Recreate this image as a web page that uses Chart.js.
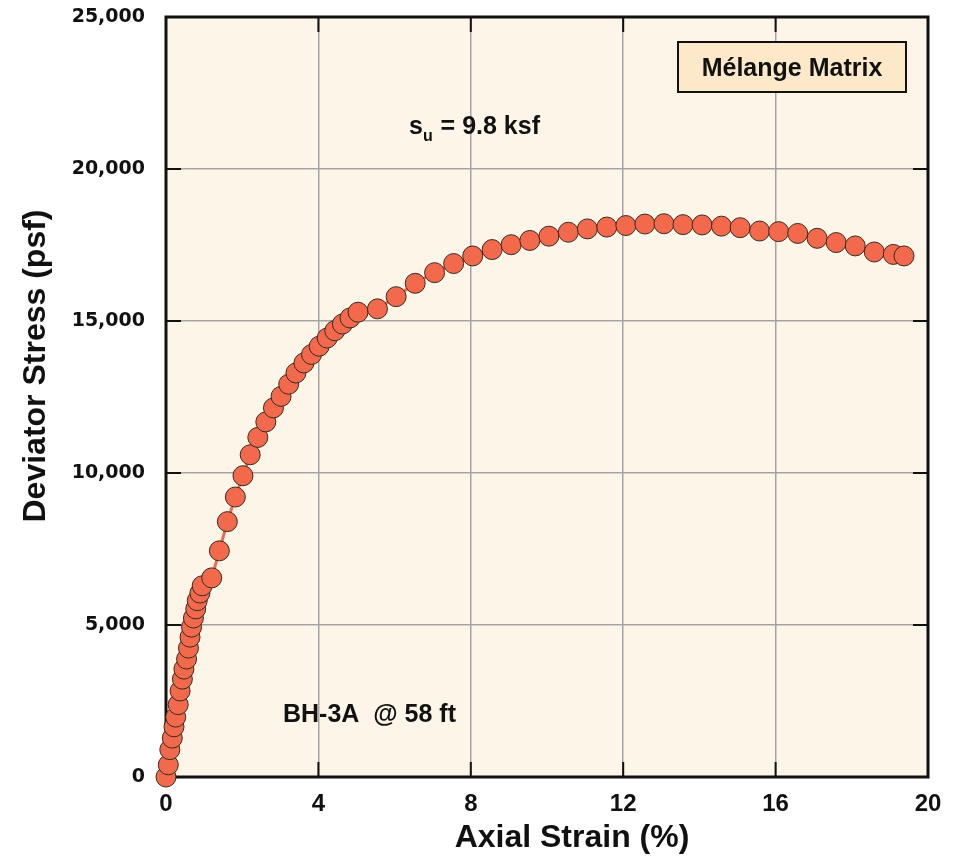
<!DOCTYPE html>
<html>
<head>
<meta charset="utf-8">
<title>Deviator Stress vs Axial Strain</title>
<script src="https://cdn.jsdelivr.net/npm/chart.js@4.4.1/dist/chart.umd.min.js"></script>
<style>
  html, body { margin: 0; padding: 0; background: #fff; }
  #wrap { width: 965px; height: 863px; }
</style>
</head>
<body>
<div id="wrap"><canvas id="chart" width="965" height="863"></canvas></div>
<script>
// values
const strain = [
  0, 0.06, 0.10, 0.165, 0.21, 0.255, 0.32, 0.37, 0.43, 0.47,
  0.54, 0.59, 0.63, 0.67, 0.72, 0.78, 0.82, 0.89, 0.95, 1.20,
  1.40, 1.61, 1.82, 2.02, 2.21, 2.41, 2.62, 2.82, 3.02, 3.22,
  3.41, 3.62, 3.82, 4.02, 4.23, 4.43, 4.63, 4.83, 5.04, 5.55,
  6.04, 6.54, 7.05, 7.55, 8.05, 8.56, 9.06, 9.55, 10.05, 10.56,
  11.06, 11.57, 12.07, 12.57, 13.07, 13.57, 14.07, 14.58, 15.07, 15.58,
  16.08, 16.58, 17.09, 17.59, 18.09, 18.59, 19.09, 19.37
];
const stress = [
  0, 400, 900, 1280, 1650, 1970, 2380, 2830, 3220, 3550,
  3880, 4240, 4600, 4930, 5230, 5530, 5800, 6050, 6290, 6550,
  7440, 8400, 9210, 9910, 10600, 11170, 11680, 12140, 12520, 12920,
  13290, 13620, 13900, 14170, 14440, 14680, 14900, 15100, 15290, 15400,
  15800, 16240, 16590, 16890, 17140, 17350, 17510, 17650, 17790, 17920,
  18030, 18090, 18140, 18190, 18200, 18170, 18160, 18120, 18070, 17960,
  17940, 17880, 17720, 17580, 17470, 17270, 17190, 17140
];
const xTicks = [0, 4, 8, 12, 16, 20];
const yTicks = [0, 5000, 10000, 15000, 20000, 25000];
const xTitle = "Axial Strain (%)";
const yTitle = "Deviator Stress (psf)";
const boxLabel = "Mélange Matrix";
const suLabel = ["s", "u", " = 9.8 ksf"];
const sampleLabel = "BH-3A  @ 58 ft";

const points = strain.map((x, i) => ({ x: x, y: stress[i] }));

const frame = {
  id: "frame",
  beforeDraw(chart) {
    const { ctx, chartArea: a } = chart;
    ctx.save();
    ctx.fillStyle = "#fcf5e8";
    ctx.fillRect(a.left, a.top, a.right - a.left, a.bottom - a.top);
    ctx.restore();
  },
  beforeDatasetsDraw(chart) {
    const { ctx, chartArea: a, scales } = chart;
    ctx.save();
    ctx.strokeStyle = "#111";
    // inward tick marks on all four sides
    ctx.lineWidth = 2;
    const tl = 15;
    xTicks.forEach((v) => {
      const px = scales.x.getPixelForValue(v);
      ctx.beginPath();
      ctx.moveTo(px, a.bottom); ctx.lineTo(px, a.bottom - tl);
      ctx.moveTo(px, a.top); ctx.lineTo(px, a.top + tl);
      ctx.stroke();
    });
    yTicks.forEach((v) => {
      const py = scales.y.getPixelForValue(v);
      ctx.beginPath();
      ctx.moveTo(a.left, py); ctx.lineTo(a.left + tl, py);
      ctx.moveTo(a.right, py); ctx.lineTo(a.right - tl, py);
      ctx.stroke();
    });
    ctx.lineWidth = 3;
    ctx.strokeRect(a.left, a.top, a.right - a.left, a.bottom - a.top);

    // annotations
    ctx.fillStyle = "#111";
    ctx.font = "bold 25px 'Liberation Sans', Arial, sans-serif";
    ctx.textBaseline = "alphabetic";
    ctx.textAlign = "left";
    ctx.fillText(sampleLabel, 283, 722);

    let sx = 409;
    ctx.fillText(suLabel[0], sx, 134);
    sx += ctx.measureText(suLabel[0]).width;
    ctx.font = "bold 16px 'Liberation Sans', Arial, sans-serif";
    ctx.fillText(suLabel[1], sx, 141);
    sx += ctx.measureText(suLabel[1]).width + 1;
    ctx.font = "bold 25px 'Liberation Sans', Arial, sans-serif";
    ctx.fillText(suLabel[2], sx, 134);

    ctx.fillStyle = "#fde8c9";
    ctx.fillRect(678, 42, 228, 50);
    ctx.lineWidth = 2;
    ctx.strokeRect(678, 42, 228, 50);
    ctx.fillStyle = "#111";
    ctx.textAlign = "center";
    ctx.fillText(boxLabel, 792, 76);
    ctx.restore();
  },
  afterDraw(chart) {
    const { ctx, chartArea: a } = chart;
    ctx.save();
    ctx.fillStyle = "#111";
    ctx.font = "bold 32px 'Liberation Sans', Arial, sans-serif";
    ctx.textAlign = "center";
    ctx.textBaseline = "middle";
    ctx.fillText(xTitle, 572, 838);
    ctx.translate(36, 366);
    ctx.rotate(-Math.PI / 2);
    ctx.fillText(yTitle, 0, 0);
    ctx.restore();
  }
};

new Chart(document.getElementById("chart"), {
  type: "scatter",
  data: {
    datasets: [{
      data: points,
      showLine: true,
      borderColor: "#f0694c",
      borderWidth: 3,
      backgroundColor: "#f26a4b",
      pointBackgroundColor: "#f26a4b",
      pointBorderColor: "#3a2a22",
      pointBorderWidth: 1,
      pointRadius: 10,
      pointHoverRadius: 10,
      clip: false
    }]
  },
  options: {
    responsive: false,
    animation: false,
    events: [],
    layout: { padding: { top: 17, right: 37, left: 0, bottom: 0 } },
    plugins: { legend: { display: false }, tooltip: { enabled: false } },
    scales: {
      x: {
        type: "linear",
        min: 0,
        max: 20,
        afterFit(scale) {
          scale.height = 86;
          scale.paddingLeft = 0;
          scale.paddingRight = 0;
        },
        afterBuildTicks(scale) { scale.ticks = xTicks.map((v) => ({ value: v })); },
        border: { display: false },
        grid: { color: "#a3a3a3", lineWidth: 1.5, drawTicks: false },
        ticks: {
          padding: 13,
          color: "#111",
          font: { family: "'Liberation Sans', Arial, sans-serif", weight: "bold", size: 24 }
        }
      },
      y: {
        type: "linear",
        min: 0,
        max: 25000,
        afterFit(scale) {
          scale.width = 166;
          scale.paddingTop = 0;
          scale.paddingBottom = 0;
        },
        afterBuildTicks(scale) { scale.ticks = yTicks.map((v) => ({ value: v })); },
        border: { display: false },
        grid: { color: "#a3a3a3", lineWidth: 1.5, drawTicks: false },
        ticks: {
          padding: 21,
          color: "#111",
          font: { family: "'DejaVu Sans', sans-serif", weight: "bold", size: 19 },
          callback: (v) => v.toLocaleString("en-US")
        }
      }
    }
  },
  plugins: [frame]
});
</script>
</body>
</html>
